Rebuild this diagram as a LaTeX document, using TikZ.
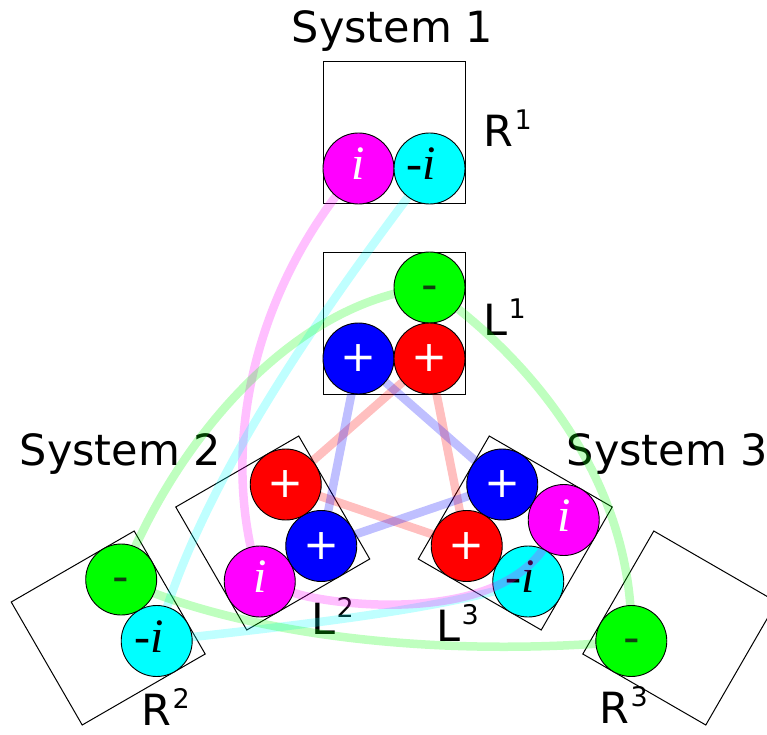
\documentclass[tikz,border=0pt]{standalone}
\usepackage{fontspec}
\setmainfont{DejaVu Sans}
\newfontfamily\serifi{Liberation Serif}
\definecolor{dkg}{RGB}{16,64,16}
\definecolor{mag}{RGB}{255,0,255}
\definecolor{cya}{RGB}{0,255,255}
\definecolor{grn}{RGB}{0,255,0}
\definecolor{rd}{RGB}{255,0,0}
\definecolor{bl}{RGB}{0,0,255}
\newcommand{\supx}[1]{\kern1.5pt\raisebox{17pt}{\fontsize{27}{27}\selectfont #1}}
\newcommand{\ii}{{\fontsize{48}{48}\selectfont\serifi\itshape\raisebox{0pt}[\height][\dimexpr\depth+9pt\relax]{i}}}
\newcommand{\mi}{{\fontsize{48}{48}\selectfont\serifi\itshape\raisebox{0pt}[\height][\dimexpr\depth+9pt\relax]{\llap{-}i}}}
\newcommand{\mn}{{\fontsize{46}{46}\selectfont\raisebox{0pt}[0.544em][0pt]{-}}}
\tikzset{
  ball/.style={circle, draw=black, line width=0.9pt, minimum size=71pt, inner sep=0pt},
  pl/.style={ball, text=white, font=\fontsize{43}{43}\selectfont},
  lnk/.style={line width=8.5pt, opacity=0.25},
  sqbox/.style={draw=black, line width=1pt},
  lab/.style={inner sep=0pt, anchor=base west, font=\fontsize{43}{43}\selectfont}
}
\begin{document}
\begin{tikzpicture}[x=1pt,y=1pt]
\useasboundingbox (-394,-271) rectangle (373,463);
% boxes and slot positions
\foreach \s/\r in {1/0,2/120,3/-120}{
  \begin{scope}[rotate=\r]
    \coordinate (tl\s) at (-35.5,175.5);
    \coordinate (tr\s) at (35.5,175.5);
    \coordinate (bl\s) at (-35.5,104.5);
    \coordinate (br\s) at (35.5,104.5);
    \coordinate (rl\s) at (-35.5,294.5);
    \coordinate (rr\s) at (35.5,294.5);
    \draw[sqbox] (-71,69) -- (71,69) -- (71,211) -- (-71,211) -- cycle;
    \draw[sqbox] (-71,259) -- (71,259) -- (71,401) -- (-71,401) -- cycle;
  \end{scope}
}
% labels
\node[lab, anchor=base] (s1) at (-1.5,420) {System 1};
\node[lab, anchor=base] (s2) at (-273.5,-2) {System 2};
\node[lab, anchor=base] (s3) at (273.5,-2) {System 3};
\node[lab] (lr1) at (89,316) {R\supx{1}};
\node[lab] (ll1) at (89,128) {L\supx{1}};
\node[lab] (lr2) at (-253,-262) {R\supx{2}};
\node[lab] (ll2) at (-83,-171) {L\supx{2}};
\node[lab] (ll3) at (42,-178) {L\supx{3}};
\node[lab] (lr3) at (205,-260) {R\supx{3}};
% links
\draw[lnk, rd] (br1) -- (br2);
\draw[lnk, rd] (br1) -- (br3);
\draw[lnk, rd] (br2) -- (br3);
\draw[lnk, bl] (bl1) -- (bl2);
\draw[lnk, bl] (bl1) -- (bl3);
\draw[lnk, bl] (bl2) -- (bl3);
\draw[lnk, mag] (rl1) .. controls (-134,183) and (-179,23) .. (tl2);
\draw[lnk, cya] (rr1) .. controls (-64,163) and (-194,-17) .. (rl2);
\draw[lnk, cya] (rl2) .. controls (-94,-162) and (46,-147) .. (tr3);
\draw[lnk, grn] (tr1) .. controls (-94,163) and (-214,33) .. (rr2);
\draw[lnk, grn] (tr1) .. controls (146,98) and (241,-27) .. (rr3);
\draw[lnk, grn] (rr2) .. controls (-164,-167) and (26,-197) .. (rr3);
% system 1
\node[ball, fill=grn, text=dkg] (g1) at (tr1) {\mn};
\node[pl, fill=bl] (b1) at (bl1) {+};
\node[pl, fill=rd] (r1) at (br1) {+};
\node[ball, fill=mag, text=white] (m1) at (rl1) {\ii};
\node[ball, fill=cya, text=black] (c1) at (rr1) {\mi};
% system 2
\node[ball, fill=mag, text=white] (m2) at (tl2) {\ii};
\node[pl, fill=bl] (b2) at (bl2) {+};
\node[pl, fill=rd] (r2) at (br2) {+};
\node[ball, fill=cya, text=black] (c2) at (rl2) {\mi};
\node[ball, fill=grn, text=dkg] (g2) at (rr2) {\mn};
% system 3
\node[ball, fill=mag, text=white] (m3) at (tl3) {\ii};
\node[ball, fill=cya, text=black] (c3) at (tr3) {\mi};
\node[pl, fill=bl] (b3) at (bl3) {+};
\node[pl, fill=rd] (r3) at (br3) {+};
\node[ball, fill=grn, text=dkg] (g3) at (rr3) {\mn};
% magenta link over system 3
\draw[lnk, mag] (m2) .. controls (-64,-142) and (96,-162) .. (m3);
\end{tikzpicture}
\end{document}
